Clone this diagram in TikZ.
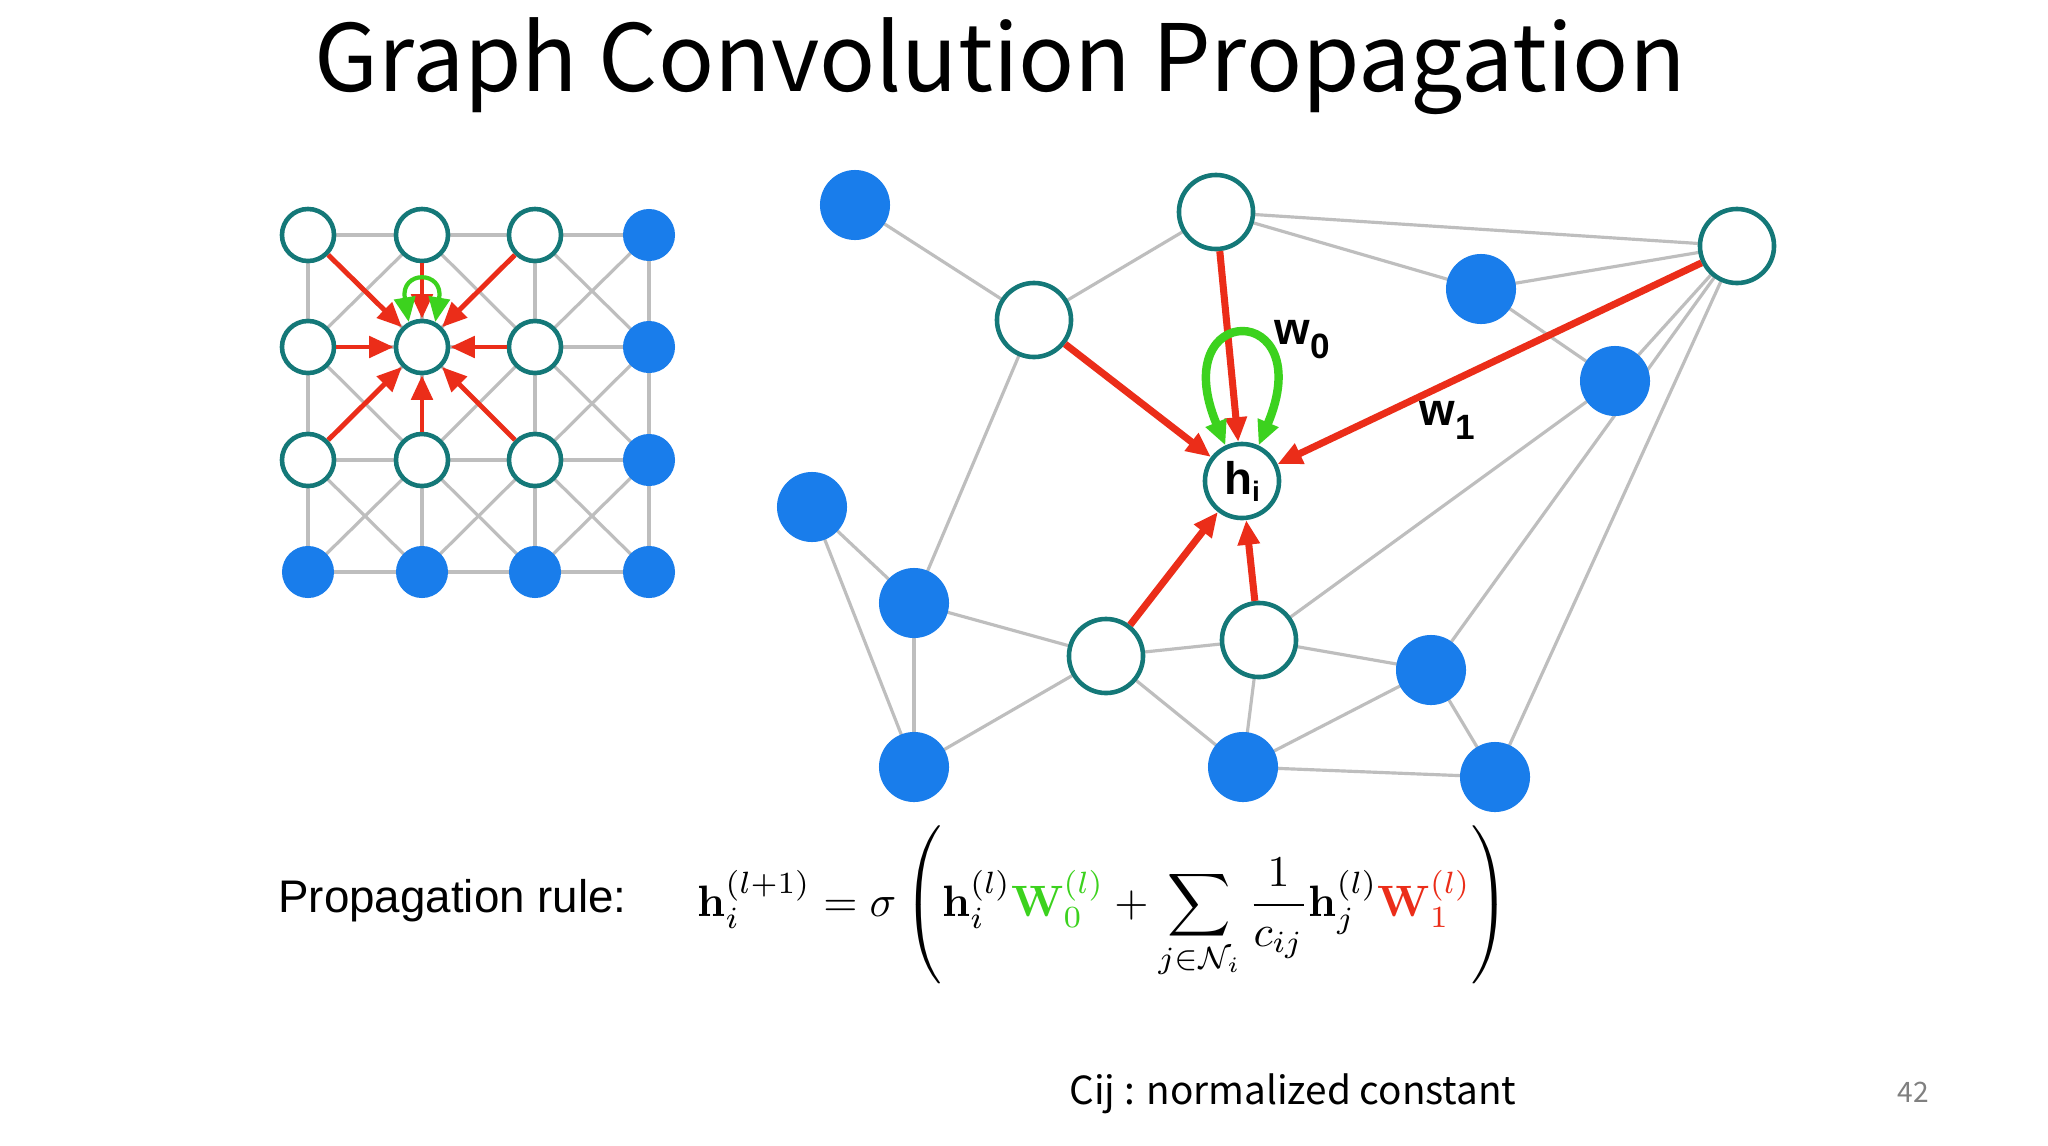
\documentclass[tikz,border=0pt]{standalone}
\usepackage{fontspec}
\usepackage{amsmath,amssymb}
\setmainfont{Latin Modern Roman}
\newfontfamily\titlefont{Noto Sans CJK KR}
\newfontfamily\arialfont{Liberation Sans}
\usetikzlibrary{arrows.meta}
\definecolor{teal2}{RGB}{20,120,120}
\definecolor{blue2}{RGB}{25,125,235}
\definecolor{edge}{RGB}{190,190,190}
\definecolor{red2}{RGB}{235,45,25}
\definecolor{green2}{RGB}{60,210,30}
\begin{document}
\begin{tikzpicture}[x=0.01cm,y=-0.01cm,
  opn/.style={circle,draw=teal2,line width=1.3pt,fill=white,minimum size=#1*0.02cm,inner sep=0pt},
  fil/.style={circle,fill=blue2,minimum size=#1*0.02cm,inner sep=0pt},
  ed/.style={draw=edge,line width=0.9pt},
  rar/.style={draw=red2,line width=1.4pt,-{Triangle[length=7pt,width=6pt]}},
  grar/.style={draw=green2,line width=1.6pt,{Triangle[length=7pt,width=6pt]}-{Triangle[length=7pt,width=6pt]}}]
\useasboundingbox[fill=white] (0,0) rectangle (2048,1145);
\node[font=\titlefont\fontsize{26.4}{32}\selectfont] (title) at (1000,66) {Graph Convolution Propagation};
% small grid
\foreach \c/\x in {0/308,1/422,2/535,3/649}{
  \foreach \r/\y in {0/235,1/347,2/460,3/572}{
    \coordinate (g\c\r) at (\x,\y);}}
\foreach \c in {0,1,2,3}{\foreach \r [evaluate=\r as \rn using int(\r+1)] in {0,1,2}{
  \draw[ed] (g\c\r) -- (g\c\rn); \draw[ed] (g\r\c) -- (g\rn\c);}}
\foreach \c [evaluate=\c as \cn using int(\c+1)] in {0,1,2}{\foreach \r [evaluate=\r as \rn using int(\r+1)] in {0,1,2}{
  \draw[ed] (g\c\r) -- (g\cn\rn); \draw[ed] (g\cn\r) -- (g\c\rn);}}
\foreach \c in {0,1,2}{\foreach \r in {0,1,2}{\node[opn=26] (n\c\r) at (g\c\r) {};}}
\foreach \c/\r in {3/0,3/1,3/2,3/3,0/3,1/3,2/3}{\node[fil=26] (n\c\r) at (g\c\r) {};}
\foreach \c/\r in {0/0,1/0,2/0,0/1,2/1,0/2,1/2,2/2}{\draw[rar] (n\c\r) -- (n11);}
\draw[grar,line width=1.2pt] (n11.118) .. controls (400,270) and (444,270) .. (n11.62);
% right graph
\foreach \a/\b/\p in {A/E/{855,205},E/B/{1034,320},B/C/{1216,212},B/D/{1216,212},D/C/{1481,289},D/F/{1481,289},C/F/{1737,246},C/L/{1737,246},C/O/{1737,246},F/K/{1615,381},E/I/{1034,320},G/I/{812,507},G/M/{812,507},I/M/{914,603},I/J/{914,603},J/K/{1106,656},J/M/{1106,656},J/N/{1106,656},K/L/{1259,640},K/N/{1259,640},L/N/{1431,670},L/O/{1431,670},N/O/{1243,767}}{}
\coordinate (cA) at (855,205);  \coordinate (cB) at (1216,212);
\coordinate (cC) at (1737,246); \coordinate (cD) at (1481,289);
\coordinate (cE) at (1034,320); \coordinate (cF) at (1615,381);
\coordinate (cG) at (812,507);  \coordinate (cI) at (914,603);
\coordinate (cJ) at (1106,656); \coordinate (cK) at (1259,640);
\coordinate (cL) at (1431,670); \coordinate (cM) at (914,767);
\coordinate (cN) at (1243,767); \coordinate (cO) at (1495,777);
\foreach \a/\b in {A/E,E/B,B/C,B/D,D/C,D/F,C/F,C/L,C/O,F/K,E/I,G/I,G/M,I/M,I/J,J/K,J/M,J/N,K/L,K/N,L/N,L/O,N/O}{
  \draw[ed] (c\a) -- (c\b);}
\foreach \n in {A,D,F,G,I,L,M,N,O}{\node[fil=35] (\n) at (c\n) {};}
\foreach \n in {B,C,E,J,K}{\node[opn=37] (\n) at (c\n) {};}
\node[opn=37,font=\arialfont\bfseries\fontsize{13}{13}\selectfont] (H) at (1242,481) {h\raisebox{-2pt}{\fontsize{8}{8}\selectfont i}};
\foreach \a in {E,B,C,J,K}{\draw[rar,line width=2pt] (\a) -- (H);}
\draw[grar,line width=2.4pt] (H.115) .. controls (1165,300) and (1320,300) .. (H.65);
\node[font=\arialfont\bfseries\fontsize{13}{13}\selectfont] (w0) at (1302,340) {w\raisebox{-4pt}{\fontsize{10}{10}\selectfont 0}};
\node[font=\arialfont\bfseries\fontsize{13}{13}\selectfont] (w1) at (1447,420) {w\raisebox{-4pt}{\fontsize{10}{10}\selectfont 1}};
% formula
\node[anchor=west,font=\arialfont\fontsize{13}{13}\selectfont] (pr) at (266,901) {Propagation rule:};
\node[anchor=west,scale=1.25] (eq) at (682,905) {$\displaystyle \mathbf{h}_i^{(l+1)}=\sigma\left(\mathbf{h}_i^{(l)}\color{green2}\mathbf{W}_0^{(l)}\color{black}+\sum_{j\in\mathcal{N}_i}\frac{1}{c_{ij}}\mathbf{h}_j^{(l)}\color{red2}\mathbf{W}_1^{(l)}\color{black}\right)$};
\node[font=\titlefont\fontsize{11}{11}\selectfont] (cij) at (1293,1094) {Cij : normalized constant};
\node[font=\titlefont\fontsize{8}{8}\selectfont,text=gray] (pg) at (1913,1092) {42};
\end{tikzpicture}
\end{document}
